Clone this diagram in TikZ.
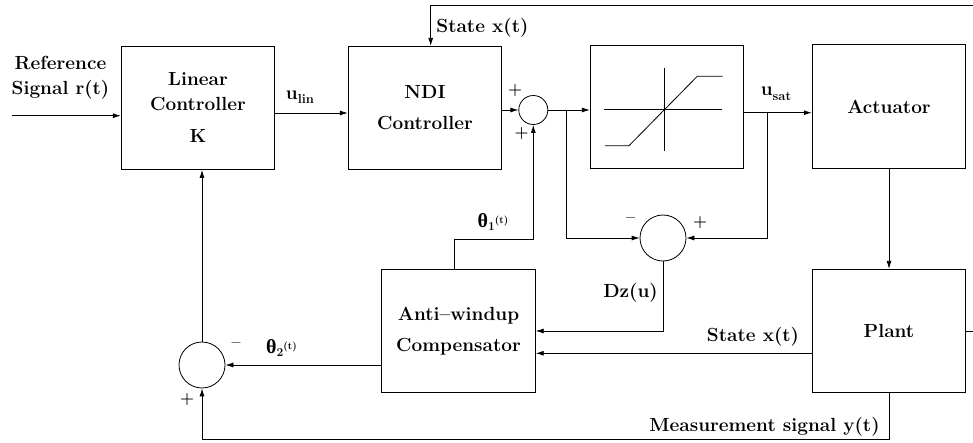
\documentclass[tikz,border=0pt]{standalone}
\usepackage{fontspec}
\newfontfamily\grk{Liberation Serif}
\usetikzlibrary{arrows.meta,calc}
\newcommand\dlfont{\fontsize{19}{25}\selectfont\bfseries}
\newcommand\sgfont{\fontsize{16}{18}\selectfont\bfseries}
\newcommand\subtxt[1]{\raisebox{-4.5pt}{\fontsize{13}{13}\selectfont\bfseries #1}}
\newcommand\thlab[1]{{\grk\fontsize{20}{20}\selectfont θ}\raisebox{-3pt}{\fontsize{12}{12}\selectfont\bfseries #1}\raisebox{4pt}{\fontsize{10}{10}\selectfont\bfseries (t)}}
\begin{document}
\begin{tikzpicture}[x=1pt,y=-1pt,line width=0.8pt,
  blk/.style={draw,rectangle,inner sep=0pt,minimum width=153.6pt,minimum height=123.4pt,align=center,font=\dlfont},
  sumc/.style={draw,circle,inner sep=0pt,minimum size=#1},
  lbl/.style={font=\dlfont,inner sep=0pt},
  sgn/.style={font=\sgfont,inner sep=0pt},
  arr/.style={-{Latex[length=8pt,width=5pt]}}]
\useasboundingbox (0,0) rectangle (973,443);
% blocks
\node[blk] (lin) at (198,107.8) {Linear\\Controller\\[6.7pt]K};
\node[blk] (ndi) at (425,108) {NDI\\[6pt]Controller};
\node[blk] (sat) at (667,106.7) {};
\node[blk] (act) at (889,106.5) {Actuator};
\node[blk] (plant) at (889,331) {Plant};
\node[blk] (comp) at (458.5,331) {Anti--windup\\[6.6pt]Compensator};
% summing junctions
\node[sumc=29pt] (s1) at (533.3,110) {};
\node[sumc=46pt] (s2) at (663,238) {};
\node[sumc=46pt] (s3) at (202,365) {};
% saturation characteristic
\begin{scope}[shift={(sat.center)}]
  \draw (-63,2.3) -- (55,2.3);
  \draw (-2.7,-39) -- (-2.7,44);
  \draw (-62,39) -- (-38,39) -- (30.3,-30.4) -- (55.7,-30.4);
\end{scope}
% coordinates
\coordinate (rin) at (12,115.7);
\coordinate (b1) at (566,110);
\coordinate (b2) at (767.3,112.7);
\coordinate (t1) at (454.6,239.3);
\coordinate (fb) at (430.7,5);
% connectors
\draw[arr] (rin) -- (rin -| lin.west);
\draw[arr] ($(lin.east)+(0,5.2)$) -- ($(ndi.west)+(0,5)$);
\draw[arr] (ndi.east |- s1.west) -- (s1.west);
\draw[arr] (s1.east) -- (s1.east -| sat.west);
\draw[arr] (b1) |- (s2.west);
\draw[arr] ($(sat.east)+(0,6)$) -- ($(act.west)+(0,6.2)$);
\draw[arr] (b2) |- (s2.east);
\draw[arr] (s2.south) |- (comp.east);
\draw[arr] ($(plant.west)+(0,22.3)$) -- ($(comp.east)+(0,22.3)$);
\draw[arr] (comp.west |- s3.east) -- (s3.east);
\draw[arr] (s3.north) -- (s3.north |- lin.south);
\draw[arr] (plant.south) -- ++(0,46.6) -| (s3.south);
\draw[arr] (t1 |- comp.north) -- (t1) -| (s1.south);
\draw[arr] (act.south) -- (plant.north);
\draw[arr] (plant.east) -- (976,331) |- (fb) -- (fb |- ndi.north);
% labels
\node[lbl,align=center] (reft) at (60.5,77.5) {Reference\\Signal r(t)};
\node[lbl] (ulin) at (300,97) {u\subtxt{lin}};
\node[lbl] (usat) at (776,94) {u\subtxt{sat}};
\node[lbl,anchor=west] (stx1) at (436,28) {State x(t)};
\node[lbl] (stx2) at (753,337) {State x(t)};
\node[lbl,anchor=east] (meas) at (880,427) {Measurement signal y(t)};
\node[lbl] (dz) at (630.5,293) {Dz(u)};
\node[lbl] (th1) at (493,222) {\thlab{1}};
\node[lbl] (th2) at (281.5,348) {\thlab{2}};
\node[sgn] (p1) at (515,90.7) {+};
\node[sgn] (p2) at (521.7,134) {+};
\node[sgn] (p3) at (700,222.7) {+};
\node[sgn] (p4) at (187,400) {+};
\node[sgn] (m1) at (236,345) {--};
\node[sgn] (m2) at (630.7,220) {--};
\end{tikzpicture}
\end{document}
